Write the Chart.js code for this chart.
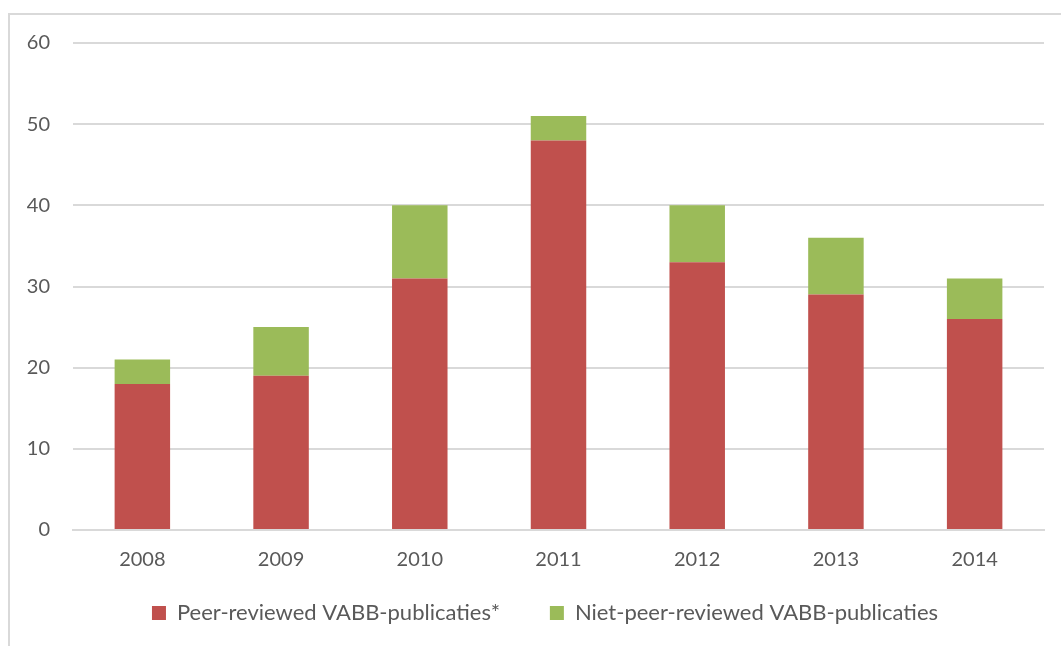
<!DOCTYPE html>
<html>
<head>
<meta charset="utf-8">
<script src="https://cdn.jsdelivr.net/npm/chart.js@4"></script>
<style>
  html, body { margin: 0; padding: 0; background: #fff; }
  #frame {
    position: absolute; left: 8px; top: 13px; width: 1100px; height: 700px;
    border-left: 2px solid #d9d9d9; border-top: 2px solid #d9d9d9;
  }
  #wrap { position: absolute; left: 0; top: 0; width: 1061px; height: 646px; }
</style>
</head>
<body>
<div id="frame"></div>
<div id="wrap"><canvas id="barChart"></canvas></div>
<script>
// Jaren
const jaren = ['2008', '2009', '2010', '2011', '2012', '2013', '2014'];

// Publicaties per jaar
const peerReviewed = [18, 19, 31, 48, 33, 29, 26];
const nietPeerReviewed = [3, 6, 9, 3, 7, 7, 5];

const tekstKleur = '#595959';
const lettertype = 'Lato';

// legende iets naar rechts, zoals in Excel
const legendeVerschuiving = {
    id: 'legendeVerschuiving',
    afterLayout(chart) {
        chart.legend.left += 23;
        chart.legend.right += 23;
    }
};

const config = {
    type: 'bar',
    data: {
        labels: jaren,
        datasets: [
            {
                label: 'Peer-reviewed VABB-publicaties*',
                data: peerReviewed,
                backgroundColor: '#C0504D',
                borderWidth: 0,
                barPercentage: 0.8,
                categoryPercentage: 0.5
            },
            {
                label: 'Niet-peer-reviewed VABB-publicaties',
                data: nietPeerReviewed,
                backgroundColor: '#9BBB59',
                borderWidth: 0,
                barPercentage: 0.8,
                categoryPercentage: 0.5
            }
        ]
    },
    options: {
        responsive: true,
        maintainAspectRatio: false,
        animation: false,
        layout: {
            padding: { left: 0, right: 17, top: 43, bottom: 12 }
        },
        plugins: {
            legend: {
                position: 'bottom',
                labels: {
                    color: tekstKleur,
                    font: { family: lettertype, size: 22 },
                    boxWidth: 14,
                    boxHeight: 14,
                    padding: 16,
                    // extra ruimte tussen de twee items
                    generateLabels: (chart) => {
                        const items = Chart.defaults.plugins.legend.labels.generateLabels(chart);
                        items[0].text = items[0].text + '\u00a0'.repeat(6);
                        return items;
                    }
                }
            },
            tooltip: { enabled: false }
        },
        scales: {
            x: {
                stacked: true,
                grid: { display: false, drawTicks: false },
                border: { color: '#d9d9d9', width: 2 },
                ticks: {
                    color: tekstKleur,
                    font: { family: lettertype, size: 20 },
                    padding: 18
                },
                afterFit: (s) => { s.height = 56; }
            },
            y: {
                stacked: true,
                min: 0,
                max: 60,
                ticks: {
                    stepSize: 10,
                    color: tekstKleur,
                    font: { family: lettertype, size: 20 },
                    padding: 23
                },
                grid: { color: '#d9d9d9', lineWidth: 2, drawTicks: false },
                border: { display: false },
                afterFit: (s) => { s.width = 73; }
            }
        }
    },
    plugins: [legendeVerschuiving]
};

const ctx = document.getElementById('barChart').getContext('2d');
new Chart(ctx, config);
</script>
</body>
</html>
